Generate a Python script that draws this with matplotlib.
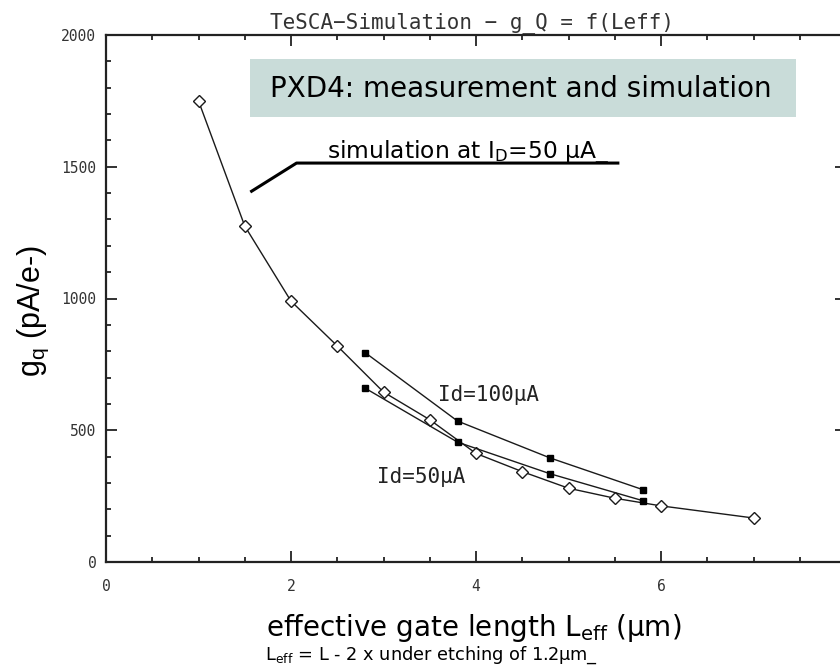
import matplotlib
matplotlib.use("Agg")
import matplotlib.pyplot as plt
from matplotlib.patches import Rectangle
from matplotlib.ticker import MultipleLocator

# Simulated transconductance vs effective gate length (open diamonds)
sim_leff = [1.0, 1.5, 2.0, 2.5, 3.0, 3.5, 4.0, 4.5, 5.0, 5.5, 6.0, 7.0]
sim_gq = [1750, 1275, 990, 820, 645, 540, 412, 343, 280, 242, 213, 167]

# Measured points (filled squares)
meas_leff = [2.8, 3.8, 4.8, 5.8]
meas_gq_100 = [795, 535, 395, 275]
meas_gq_50 = [660, 455, 335, 233]

title_text = "TeSCA\u2212Simulation \u2212 g_Q = f(Leff)"
box_text = "PXD4: measurement and simulation"
sim_note = r"simulation at I$_{\mathregular{D}}$=50 µA_"
label_100 = "Id=100µA"
label_50 = "Id=50µA"
xlabel_main = r"effective gate length L$_{\mathregular{eff}}$ (µm)"
xlabel_note = r"L$_{\mathregular{eff}}$ = L - 2 x under etching of 1.2µm_"
ylabel_text = r"g$_{\mathregular{q}}$ (pA/e-)"

W, H = 840, 671
fig = plt.figure(figsize=(W / 100, H / 100), dpi=100)

# Axes run slightly past the right edge of the canvas
ax_l, ax_r, ax_t, ax_b = 106, 846, 35, 562
ax = fig.add_axes([ax_l / W, 1 - ax_b / H, (ax_r - ax_l) / W, (ax_b - ax_t) / H])
ax.set_xlim(0, 8)
ax.set_ylim(0, 2000)

line_kw = dict(color="#1a1a1a", lw=1.0)
ax.plot(sim_leff, sim_gq, marker="D", ms=6.5, mfc="white", mec="#1a1a1a", mew=1.0, **line_kw, zorder=3)
ax.plot(meas_leff, meas_gq_100, marker="s", ms=4.5, mfc="black", mec="black", **line_kw, zorder=4)
ax.plot(meas_leff, meas_gq_50, marker="s", ms=4.5, mfc="black", mec="black", **line_kw, zorder=4)

# Axis frame and ticks
for sp in ax.spines.values():
    sp.set_linewidth(1.6)
    sp.set_color("#222222")
ax.xaxis.set_major_locator(MultipleLocator(2))
ax.xaxis.set_minor_locator(MultipleLocator(0.5))
ax.yaxis.set_major_locator(MultipleLocator(500))
ax.yaxis.set_minor_locator(MultipleLocator(100))
ax.tick_params(which="both", direction="in", top=True, right=True, color="#222222")
ax.tick_params(which="major", length=8, width=1.3)
ax.tick_params(which="minor", length=3.5, width=1.3)
ax.tick_params(axis="x", which="major", pad=12)
ax.tick_params(axis="y", which="major", pad=7)
for lab in ax.get_xticklabels() + ax.get_yticklabels():
    lab.set_fontfamily("DejaVu Sans Mono")
    lab.set_fontsize(10.5)
    lab.set_color("#333333")

# Plot title in the same plain style as the tick labels
ax.text(0.495, 1.013, title_text, transform=ax.transAxes, ha="center", va="baseline",
        fontfamily="DejaVu Sans Mono", fontsize=15, color="#333333")

# Curve labels
ax.text(3.59, 634, label_100, ha="left", va="center",
        fontfamily="DejaVu Sans Mono", fontsize=15, color="#222222")
ax.text(2.93, 323, label_50, ha="left", va="center",
        fontfamily="DejaVu Sans Mono", fontsize=15, color="#222222")

# Shaded heading box
def fx(px):
    return px / W

def fy(py):
    return 1 - py / H

fig.patches.append(Rectangle((fx(250), fy(117)), fx(796) - fx(250), fy(59) - fy(117),
                             transform=fig.transFigure, facecolor="#c9dcd9", edgecolor="none",
                             zorder=5))
fig.text(fx(270), fy(89), box_text, ha="left", va="center", fontsize=20,
         fontfamily="DejaVu Sans", color="black", zorder=6)

# Leader line pointing at the simulation curve
ax.plot([1.56, 2.06, 5.55], [1404, 1514, 1514], color="black", lw=2.2,
        solid_capstyle="butt", clip_on=False, zorder=5)
ax.text(2.39, 1535, sim_note, ha="left", va="baseline", fontsize=16.8,
        fontfamily="DejaVu Sans", color="black", zorder=6)

# Axis titles
fig.text(fx(33), fy(311), ylabel_text, rotation=90, ha="center", va="center",
         fontsize=22, fontfamily="Liberation Sans", color="black")
fig.text(fx(474), fy(628), xlabel_main, ha="center", va="center",
         fontsize=20, fontfamily="DejaVu Sans", color="black")
fig.text(fx(265), fy(655), xlabel_note, ha="left", va="center",
         fontsize=12.8, fontfamily="DejaVu Sans", color="black")

fig.savefig("out.png", dpi=100)
